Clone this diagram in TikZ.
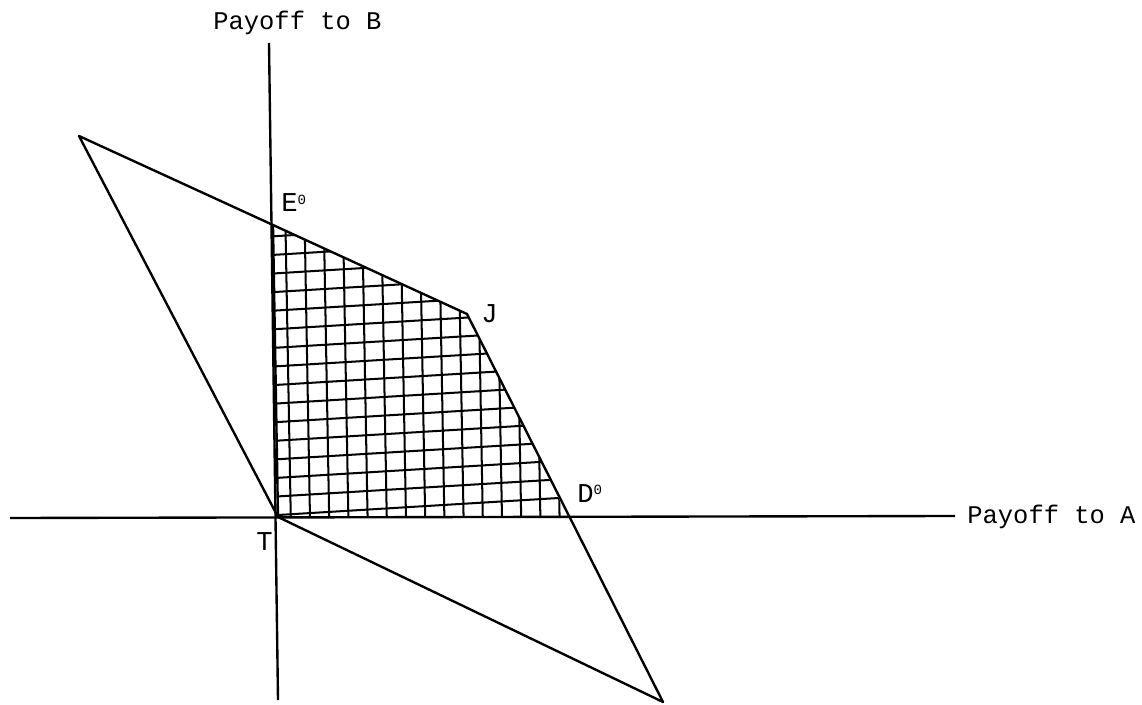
\documentclass[tikz,border=0pt]{standalone}
\usepackage{fontspec}
\setmonofont{Liberation Mono}
\begin{document}
\begin{tikzpicture}[x=0.02cm,y=-0.02cm,
  edge/.style={line width=1.35pt, line join=round},
  hatch/.style={line width=1.15pt},
  lab/.style={font=\ttfamily\fontsize{14.5}{16}\selectfont, inner sep=0pt},
  pt/.style={font=\ttfamily\fontsize{15.5}{17}\selectfont, inner sep=0pt}]
\useasboundingbox (0,0) rectangle (1142,705);
% key points
\coordinate (P) at (79,136);
\coordinate (J) at (467,314);
\coordinate (Q) at (663,702);
\coordinate (T) at (278,517);
\coordinate (E) at (273,226);
\coordinate (D) at (568,517);
\coordinate (Ytop) at (269,43);
\coordinate (Ybot) at (278,700);
\coordinate (Xl) at (10,518);
\coordinate (Xr) at (955,516);
% hatching of the region T-E-J-D
\begin{scope}
  \clip (T) -- (E) -- (J) -- (D) -- cycle;
  \foreach \k in {0,...,15} {
    \draw[hatch] (291+19.2*\k,530) -- (285+19.2*\k,200);
  }
  \foreach \k in {0,...,16} {
    \draw[hatch] (270,515.5-18.6*\k) -- (600,495.5-18.6*\k);
  }
\end{scope}
% axes
\draw[edge] (Xl) -- (Xr);
\draw[edge] (Ytop) -- (Ybot);
% parallelogram
\draw[edge] (P) -- (J) -- (Q) -- (T) -- cycle;
\draw[edge] (T) -- (E);
% labels
\node[lab, anchor=base west] (lb) at (213,30) {Payoff to B};
\node[lab, anchor=base west] (la) at (967,523) {Payoff to A};
\node[pt, anchor=base west] (lE) at (281,212) {E\raisebox{0.5ex}{\fontsize{8}{9}\selectfont 0}};
\node[pt, anchor=base west] (lD) at (577,502) {D\raisebox{0.5ex}{\fontsize{8}{9}\selectfont 0}};
\node[pt, anchor=base west] (lJ) at (481,323) {J};
\node[pt, anchor=base west] (lT) at (256,550) {T};
\end{tikzpicture}
\end{document}
